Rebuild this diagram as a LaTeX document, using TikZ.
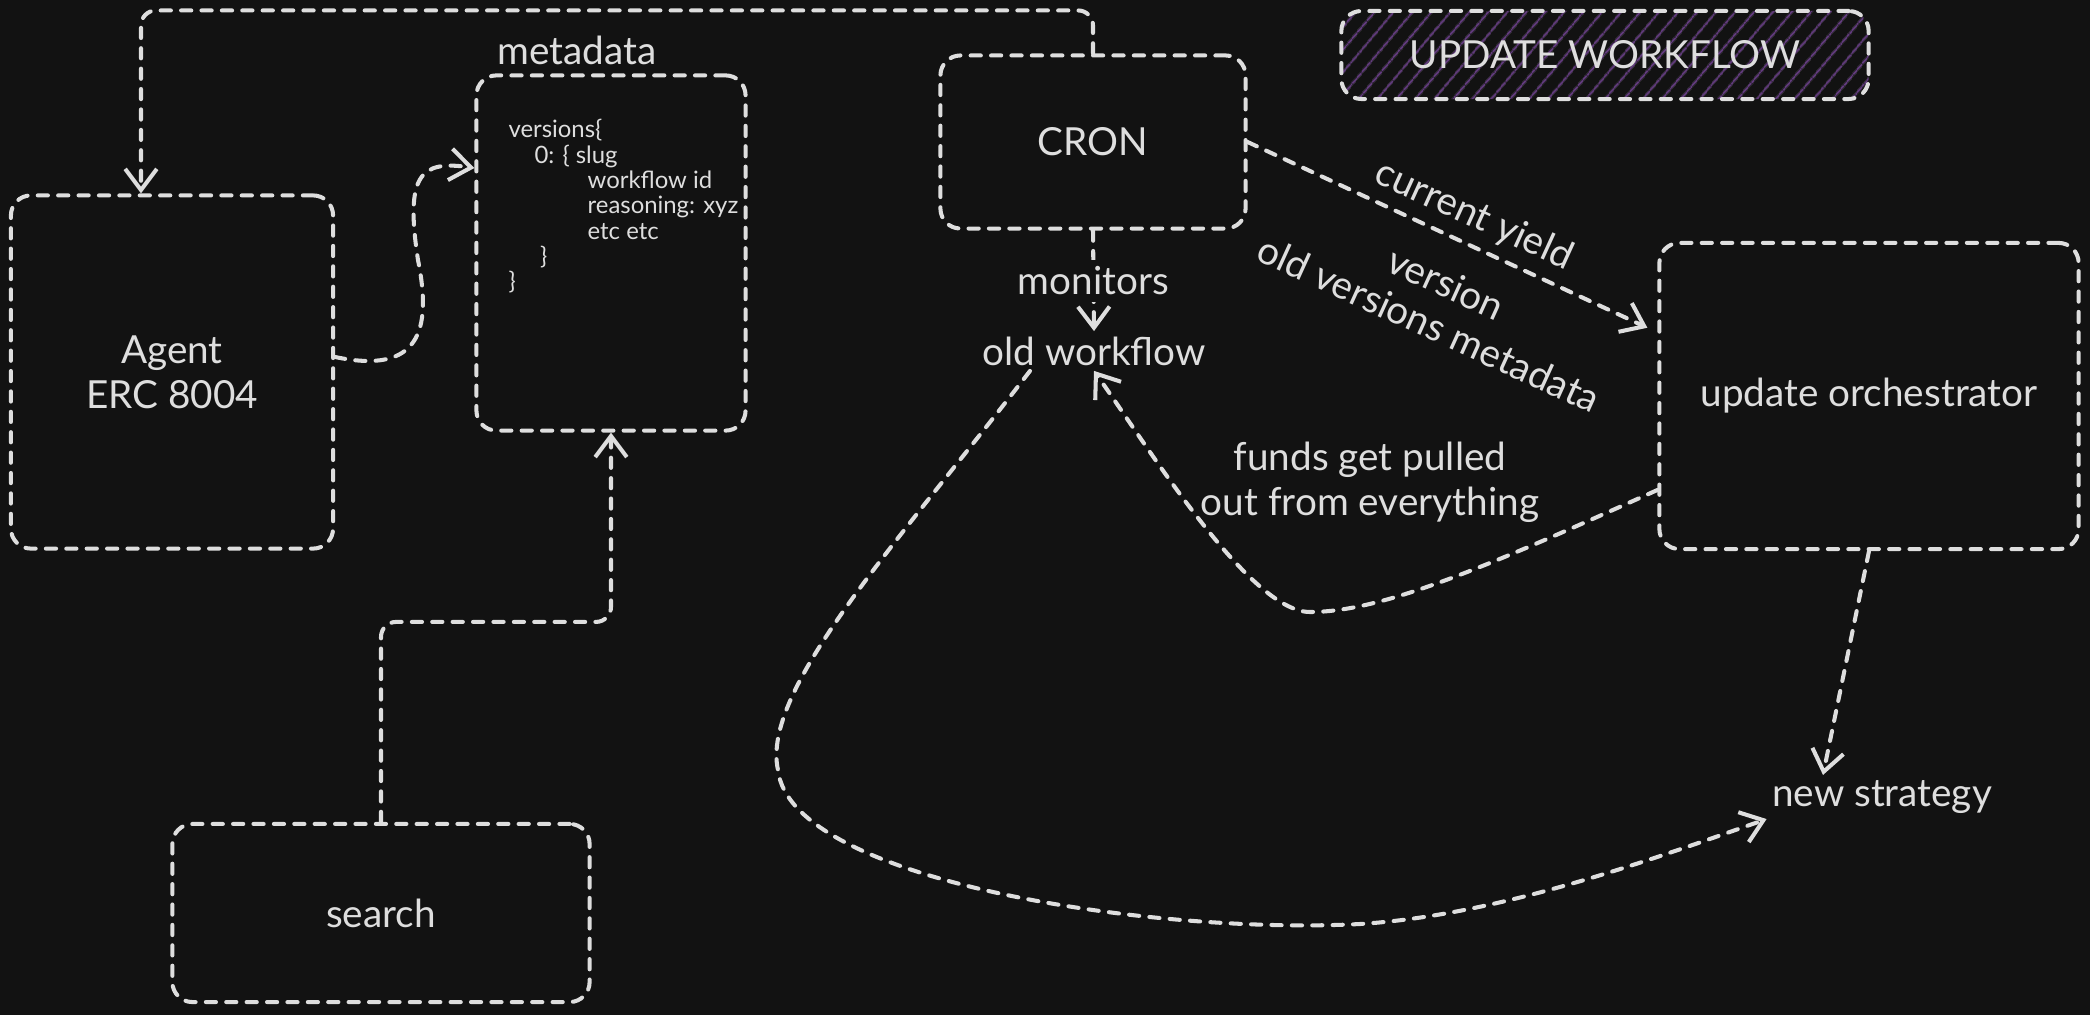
\documentclass[tikz,border=0pt]{standalone}
\usepackage{fontspec}
\setmainfont{Lato}
\usetikzlibrary{arrows.meta}
\usetikzlibrary{patterns.meta}
\usetikzlibrary{calc}
\definecolor{bgcol}{RGB}{18,18,18}
\definecolor{ink}{RGB}{222,222,222}
\definecolor{hatch}{RGB}{98,60,125}

\begin{document}
\begin{tikzpicture}[x=0.01cm,y=-0.01cm,line width=1.15pt,draw=ink,text=ink,
	>={Straight Barb[length=6pt,width=9pt]},font=\fontsize{11}{12.8}\selectfont]
	\tikzstyle{dashline}=[dash pattern=on 2.9pt off 2.9pt,line cap=round]
	\tikzstyle{box}=[draw,dashline,rounded corners=0.2cm,align=center,inner sep=0pt]
	\tikzstyle{conn}=[dashline,->]
	\tikzstyle{annot}=[align=center,inner sep=1pt]
	\tikzstyle{code}=[annot,align=left,font=\fontsize{6.8}{7.2}\selectfont]
	
	% Draw the background
	\fill[bgcol] (0,0) rectangle (2090,1015);
	\useasboundingbox (0,0) rectangle (2090,1015);
	
	% Draw the boxes
	\foreach \name/\x/\y/\w/\h/\label in {agent/172/372/3.22/3.53/{Agent\\ERC 8004},
		meta/611/253/2.69/3.55/{},cron/1093/142/3.05/1.73/CRON,
		orch/1869/396/4.19/3.06/update orchestrator,search/381/913/4.17/1.78/search}
	\node[box,minimum width=\w cm,minimum height=\h cm] (\name) at (\x,\y) {\label};
	
	% Draw the hatched title
	\node[box,minimum width=5.27cm,minimum height=0.88cm,
		pattern={Lines[angle=50,distance=4pt,line width=0.6pt]},pattern color=hatch]
		(title) at (1605,55) {UPDATE WORKFLOW};
	
	% Draw the metadata content
	\node[annot] (metalbl) at (577,50) {metadata};
	\node[code,anchor=north west] (codetxt) at (503,114) {versions\{\\
		\hspace*{7.4pt}0: \{ slug\\
		\hspace*{22.5pt}workflow id\\
		\hspace*{22.5pt}reasoning: xyz\\
		\hspace*{22.5pt}etc etc\\
		\hspace*{9pt}\}\\
		\}};
	
	% Draw the free labels
	\node[annot] (oldwf) at (1094,351) {old workflow};
	\node[annot] (newstrat) at (1882,797) {new strategy};
	\node[annot] (pulled) at (1370,482) {funds get pulled\\out from everything};
	\node[annot,rotate=-24.5] (yield) at (1474,216) {current yield};
	\node[annot,rotate=-24.5] (ver) at (1446,283) {version};
	\node[annot,rotate=-24.5] (oldver) at (1429,324) {old versions metadata};
	
	% Connect CRON back to the agent
	\draw[conn,rounded corners=0.15cm] (cron.north) -- ++(0,-43) -| ($(agent.north)+(-31,0)$);
	
	% Connect agent and search to metadata
	\draw[conn] ($(agent.east)+(0,-15)$) .. controls (420,375) and (432,330) .. (418,260)
		.. controls (405,175) and (420,160) .. ($(meta.west)+(0,-85)$);
	\draw[conn,rounded corners=0.15cm] (search.north) -- ++(0,-200) -| (meta.south);
	
	% Connect CRON
	\draw[conn] (cron.south) -- node[annot,fill=bgcol,inner sep=2pt] (mon) {monitors} (oldwf.north);
	\draw[conn] (cron.east) -- ($(orch.north west)!0.28!(orch.south west)+(-10,0)$);
	
	% Connect the orchestrator
	\draw[conn] ($(orch.west)+(0,94)$) .. controls (1480,570) and (1380,612) .. (1310,612)
		.. controls (1250,612) and (1150,450) .. (oldwf.south);
	\draw[conn] (orch.south) -- ($(newstrat.north)+(-59,0)$);
	
	% Connect old workflow to the new strategy
	\draw[conn] ($(oldwf.south)+(-64,0)$) .. controls (900,540) and (760,690) .. (778,770)
		.. controls (790,880) and (1150,935) .. (1360,924)
		.. controls (1500,915) and (1650,860) .. (newstrat.south west);
	
\end{tikzpicture}
\end{document}
